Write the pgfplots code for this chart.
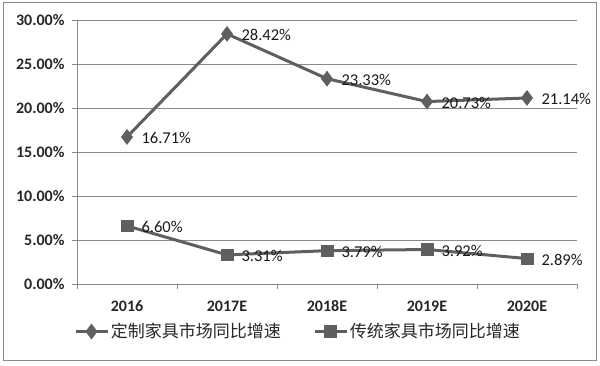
\documentclass[border=0pt]{standalone}
\usepackage{pgfplots}
\pgfplotsset{compat=1.18}
\usepackage{fontspec}
\setmainfont{Carlito}
\newfontfamily\cjk{Noto Sans CJK SC}
\definecolor{ser}{HTML}{5F5F5F}
\definecolor{grd}{HTML}{8A8A8A}
\begin{document}
\begin{tikzpicture}[x=1pt,y=1pt]
\useasboundingbox (0,0) rectangle (600,365);
\draw[color=grd, line width=1pt] (3,5) rectangle (596,362);
\begin{axis}[
  at={(77pt,81pt)}, anchor=south west,
  scale only axis, width=500pt, height=264pt,
  xmin=-0.5, xmax=4.5, ymin=0, ymax=30,
  xtick={0,...,4},
  xticklabels={2016,2017E,2018E,2019E,2020E},
  minor xtick={-0.5,0.5,1.5,2.5,3.5,4.5},
  ytick={0,5,...,30},
  axis lines*=left,
  axis line style={color=grd, line width=1pt},
  tick align=outside,
  major tick length=5pt, minor tick length=5pt,
  every major x tick/.append style={draw=none},
  tick style={color=grd, line width=1pt},
  ymajorgrids,
  grid style={color=grd, line width=0.9pt},
  /pgf/number format/assume math mode=true,
  yticklabel={\pgfmathprintnumber[fixed,fixed zerofill,precision=2]{\tick}\%},
  ticklabel style={font=\fontsize{16}{18}\selectfont\bfseries, text=black!85},
  xticklabel style={yshift=-8pt},
  yticklabel style={xshift=-4pt},
  nodes near coords={\pgfmathprintnumber[fixed,fixed zerofill,precision=2]{\pgfplotspointmeta}\%},
  every node near coord/.append style={anchor=west, xshift=11pt, yshift=-1pt, font=\fontsize{16.5}{18}\selectfont, text=black!90},
  legend columns=2,
  legend style={draw=none, fill=none, at={(0.442,-0.18)}, anchor=center,
    font=\cjk\fontsize{17}{20}\selectfont, text=black!85,
    /tikz/every even column/.append style={column sep=30pt}},
  legend image code/.code={\draw[mark repeat=2,mark phase=2] plot coordinates {(0pt,0pt) (16pt,0pt) (32pt,0pt)};},
]
\addplot[color=ser, line width=3pt, mark=diamond*, mark size=7.5pt, mark options={fill=ser, line width=0.5pt}]
  coordinates {(0,16.71) (1,28.42) (2,23.33) (3,20.73) (4,21.14)};
\addlegendentry{定制家具市场同比增速}
\addplot[color=ser, line width=3pt, mark=square*, mark size=5.8pt, mark options={fill=ser, line width=0.5pt}]
  coordinates {(0,6.60) (1,3.31) (2,3.79) (3,3.92) (4,2.89)};
\addlegendentry{传统家具市场同比增速}
\end{axis}
\end{tikzpicture}
\end{document}
